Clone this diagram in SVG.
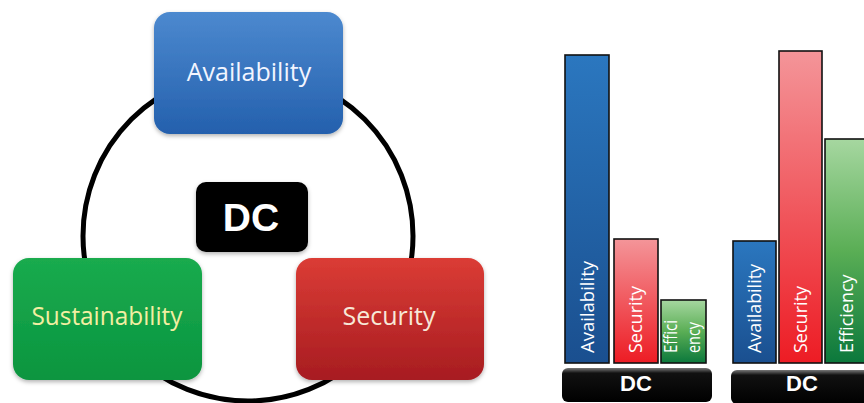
<svg xmlns="http://www.w3.org/2000/svg" width="864" height="403" viewBox="0 0 864 403">
<style>
.lbl{font-family:"Open Sans","Noto Sans",sans-serif;font-size:25px;text-anchor:middle}
.bar{stroke:#111;stroke-width:1.6}
.blbl{font-family:"Open Sans","Noto Sans",sans-serif;font-size:18px;fill:#fff}
.dc{font-family:"Liberation Sans",Arial,sans-serif;font-weight:bold;fill:#fff;text-anchor:middle}
</style>
<defs>
<linearGradient id="gBlue" x1="0" y1="0" x2="0" y2="1"><stop offset="0" stop-color="#4c89cf"/><stop offset="1" stop-color="#2460ad"/></linearGradient>
<linearGradient id="gGreen" x1="0" y1="0" x2="0" y2="1"><stop offset="0" stop-color="#1aab4e"/><stop offset="1" stop-color="#0a953f"/></linearGradient>
<linearGradient id="gRed" x1="0" y1="0" x2="0" y2="1"><stop offset="0" stop-color="#db3c35"/><stop offset="1" stop-color="#a71c21"/></linearGradient>
<linearGradient id="bBlue" x1="0" y1="0" x2="0" y2="1"><stop offset="0" stop-color="#2b77bf"/><stop offset="1" stop-color="#1a4f8f"/></linearGradient>
<linearGradient id="bRed" x1="0" y1="0" x2="0" y2="1"><stop offset="0" stop-color="#f49599"/><stop offset="1" stop-color="#ed1c24"/></linearGradient>
<linearGradient id="bGreen" x1="0" y1="0" x2="0" y2="1"><stop offset="0" stop-color="#a6d7a0"/><stop offset="0.5" stop-color="#5aae55"/><stop offset="1" stop-color="#0b783c"/></linearGradient>
<linearGradient id="bBase" x1="0" y1="0" x2="0" y2="1"><stop offset="0" stop-color="#777"/><stop offset="0.15" stop-color="#111"/><stop offset="1" stop-color="#000"/></linearGradient>
<filter id="sh" x="-10%" y="-10%" width="125%" height="130%"><feDropShadow dx="0" dy="2" stdDeviation="2" flood-color="#000" flood-opacity="0.3"/></filter>
</defs>

<g id="connectors">
<circle cx="248" cy="236" r="165" fill="none" stroke="#000" stroke-width="5"/>
</g>

<g id="node-availability">
<rect x="154" y="12" width="189" height="122" rx="16" fill="url(#gBlue)" filter="url(#sh)"/>
<text class="lbl" x="249" y="81" fill="#f2f5ff">Availability</text>
</g>
<g id="node-dc">
<rect x="196" y="182" width="112" height="70" rx="10" fill="#000" filter="url(#sh)"/>
<text class="dc" x="251" y="231" font-size="39">DC</text>
</g>
<g id="node-sustainability">
<rect x="13" y="258" width="189" height="122" rx="16" fill="url(#gGreen)" filter="url(#sh)"/>
<text class="lbl" x="107" y="325" fill="#f3efa2" textLength="151" lengthAdjust="spacingAndGlyphs">Sustainability</text>
</g>
<g id="node-security">
<rect x="296" y="258" width="188" height="122" rx="16" fill="url(#gRed)" filter="url(#sh)"/>
<text class="lbl" x="389" y="325" fill="#f7e8d8">Security</text>
</g>

<g id="chart1">
<rect class="bar" x="565" y="55" width="44" height="308" fill="url(#bBlue)"/>
<rect class="bar" x="614" y="239" width="44" height="124" fill="url(#bRed)"/>
<rect class="bar" x="661" y="300" width="45" height="63" fill="url(#bGreen)"/>
<text class="blbl" transform="translate(594,353) rotate(-90)" textLength="92" lengthAdjust="spacingAndGlyphs">Availability</text>
<text class="blbl" transform="translate(642,353) rotate(-90)">Security</text>
<text class="blbl" transform="translate(677,353) rotate(-90)" textLength="33" lengthAdjust="spacingAndGlyphs">Effici</text>
<text class="blbl" transform="translate(700,353) rotate(-90)" textLength="31" lengthAdjust="spacingAndGlyphs">ency</text>
<rect x="562" y="368" width="150" height="34" rx="6" fill="url(#bBase)"/>
<text class="dc" x="636" y="391" font-size="22">DC</text>
</g>

<g id="chart2">
<rect class="bar" x="733" y="241" width="43" height="122" fill="url(#bBlue)"/>
<rect class="bar" x="779" y="51" width="43" height="312" fill="url(#bRed)"/>
<rect class="bar" x="825" y="139" width="60" height="224" fill="url(#bGreen)"/>
<text class="blbl" transform="translate(761,353) rotate(-90)" textLength="89" lengthAdjust="spacingAndGlyphs">Availability</text>
<text class="blbl" transform="translate(807,353) rotate(-90)">Security</text>
<text class="blbl" transform="translate(853,353) rotate(-90)">Efficiency</text>
<rect x="731" y="370" width="150" height="34" rx="6" fill="url(#bBase)"/>
<text class="dc" x="802" y="391" font-size="22">DC</text>
</g>
</svg>
